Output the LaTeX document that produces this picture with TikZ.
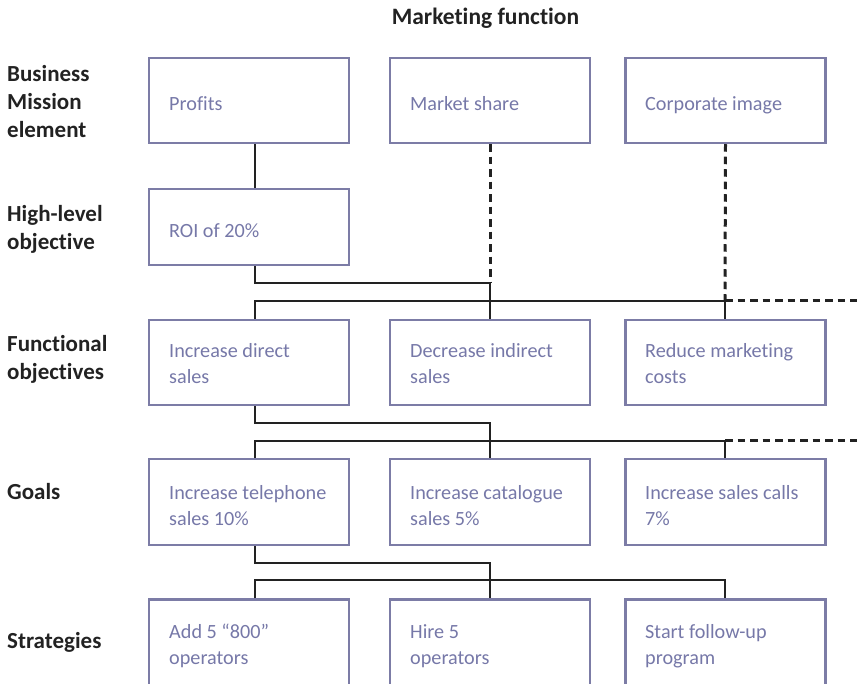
\documentclass[tikz,border=0pt]{standalone}
\usepackage{fontspec}
\setmainfont{Carlito}[Ligatures=CommonOff]
\usetikzlibrary{calc}
\definecolor{boxline}{RGB}{124,124,166}
\definecolor{boxtext}{RGB}{118,120,168}
\definecolor{ink}{RGB}{34,34,34}
\newcommand\linesat[1]{\begin{tabular}[t]{@{}l@{}}#1\end{tabular}}
\begin{document}
\begin{tikzpicture}[x=1pt,y=-1pt,
  cell/.style={draw=boxline,line width=2.5pt,rectangle,inner sep=0pt,minimum width=200pt},
  celltext/.style={anchor=base west,inner sep=0pt,text=boxtext,font=\fontsize{20.2}{26}\selectfont},
  rowlabel/.style={anchor=base west,inner sep=0pt,text=ink,font=\fontsize{23}{28}\selectfont\bfseries},
  link/.style={draw=ink,line width=2pt},
  weak/.style={draw=ink,line width=3pt,dash pattern=on 7.5pt off 5pt}]
\useasboundingbox (0,0) rectangle (857,684);

% title
\node[rowlabel,anchor=base,font=\fontsize{23.5}{28}\selectfont\bfseries] (title) at (485.5,25) {Marketing function};

% row labels
\node[rowlabel] (lab1) at (7,82)  {\linesat{Business\\Mission\\element}};
\node[rowlabel] (lab2) at (7,222) {\linesat{High-level\\objective}};
\node[rowlabel] (lab3) at (7,352) {\linesat{Functional\\objectives}};
\node[rowlabel] (lab4) at (7,500) {\linesat{Goals}};
\node[rowlabel] (lab5) at (7,648) {\linesat{Strategies}};

% boxes
\node[cell,minimum height=85pt] (prof) at (249,100.5) {};
\node[cell,minimum height=85pt] (mshare) at (490,100.5) {};
\node[cell,minimum height=85pt] (cimage) at (725.5,100.5) {};
\node[cell,minimum height=76pt] (roi) at (249,227) {};
\node[cell,minimum height=85pt] (direct) at (249,362.5) {};
\node[cell,minimum height=85pt] (indirect) at (490,362.5) {};
\node[cell,minimum height=85pt] (costs) at (725.5,362.5) {};
\node[cell,minimum height=86pt] (phone) at (249,502) {};
\node[cell,minimum height=86pt] (catalog) at (490,502) {};
\node[cell,minimum height=86pt] (calls) at (725.5,502) {};
\node[cell,minimum height=86pt] (ops) at (249,642.5) {};
\node[cell,minimum height=86pt] (hire) at (490,642.5) {};
\node[cell,minimum height=86pt] (follow) at (725.5,642.5) {};

% box texts
\node[celltext] (tprof) at (169,111) {Profits};
\node[celltext] (tmshare) at (410,111) {Market share};
\node[celltext] (tcimage) at (645,111) {Corporate image};
\node[celltext] (troi) at (169,238) {ROI of 20\%};
\node[celltext] (tdirect) at (169,358) {\linesat{Increase direct\\sales}};
\node[celltext] (tindirect) at (410,358) {\linesat{Decrease indirect\\sales}};
\node[celltext] (tcosts) at (645,358) {\linesat{Reduce marketing\\costs}};
\node[celltext] (tphone) at (169,499) {\linesat{Increase telephone\\sales 10\%}};
\node[celltext] (tcatalog) at (410,499) {\linesat{Increase catalogue\\sales 5\%}};
\node[celltext] (tcalls) at (645,499) {\linesat{Increase sales calls\\7\%}};
\node[celltext] (tops) at (169,638) {\linesat{Add 5 “800”\\operators}};
\node[celltext] (thire) at (410,638) {\linesat{Hire 5\\operators}};
\node[celltext] (tfollow) at (645,638) {\linesat{Start follow-up\\program}};

% free ends of the open dashed lines
\coordinate (openA) at (857,301);
\coordinate (openB) at (857,441);

% mission -> high-level objective
\draw[link] ($(prof.south)+(6,0)$) -- ($(roi.north)+(6,0)$);
\draw[weak] (mshare.south) -- (490,283);
\draw[weak] (cimage.south) -- (725,301);

% high-level objective -> functional objectives
\draw[link] ($(roi.south)+(6,0)$) |- (490,283) -- (indirect.north);
\draw[link] ($(direct.north)+(6,0)$) |- (725,301) -- (725,319);
\draw[weak] (725,301) -- (openA);

% functional objectives -> goals
\draw[link] ($(direct.south)+(6,0)$) |- (490,423) -- (catalog.north);
\draw[link] ($(phone.north)+(6,0)$) |- (725,441) -- (725,458);
\draw[weak] (725,441) -- (openB);

% goals -> strategies
\draw[link] ($(phone.south)+(6,0)$) |- (490,563) -- (hire.north);
\draw[link] ($(ops.north)+(6,0)$) |- (725,580) -- (725,598);
\end{tikzpicture}
\end{document}
